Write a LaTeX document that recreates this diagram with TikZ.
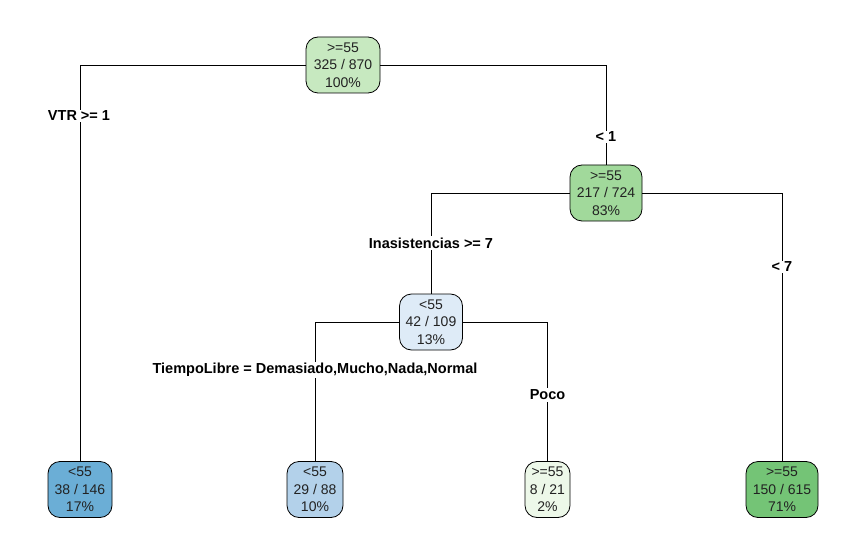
\documentclass[tikz,border=0pt]{standalone}
\usepackage{fontspec}
\setmainfont{Liberation Sans}
\definecolor{cRoot}{HTML}{C7E9C0}
\definecolor{cTwo}{HTML}{A1D99B}
\definecolor{cThree}{HTML}{DEEBF7}
\definecolor{cLeafA}{HTML}{6BAED6}
\definecolor{cLeafB}{HTML}{B3D1EA}
\definecolor{cLeafC}{HTML}{EDF8E9}
\definecolor{cLeafD}{HTML}{74C476}
\definecolor{txt}{HTML}{222222}
\tikzset{
  tnode/.style={draw=black, line width=0.8pt, rounded corners=12pt, align=center, inner sep=0pt,
    minimum height=56pt, text=txt, font=\fontsize{14}{17.5}\selectfont},
  elabel/.style={fill=white, inner sep=1.5pt, font=\fontsize{14.5}{16}\selectfont\bfseries},
  conn/.style={line width=0.8pt, draw=black}
}
\begin{document}
\begin{tikzpicture}[x=1pt,y=-1pt]
\useasboundingbox (0,0) rectangle (866,553);
\node[tnode, fill=cRoot, minimum width=74pt] (root) at (343,65) {>=55\\325 / 870\\100\%};
\node[tnode, fill=cTwo, minimum width=72pt] (n2) at (606,193) {>=55\\217 / 724\\83\%};
\node[tnode, fill=cThree, minimum width=63pt] (n3) at (431,322) {<55\\42 / 109\\13\%};
\node[tnode, fill=cLeafA, minimum width=64pt] (l1) at (80,489.5) {<55\\38 / 146\\17\%};
\node[tnode, fill=cLeafB, minimum width=56pt] (l2) at (315,489.5) {<55\\29 / 88\\10\%};
\node[tnode, fill=cLeafC, minimum width=45pt] (l3) at (547.5,489.5) {>=55\\8 / 21\\2\%};
\node[tnode, fill=cLeafD, minimum width=72pt] (l4) at (782,489.5) {>=55\\150 / 615\\71\%};
\draw[conn] (root.west) -| (l1.north);
\draw[conn] (root.east) -| (n2.north);
\draw[conn] (n2.west) -| (n3.north);
\draw[conn] (n2.east) -| (l4.north);
\draw[conn] (n3.west) -| (l2.north);
\draw[conn] (n3.east) -| (l3.north);
\node[elabel] (e1) at (79,116) {VTR >= 1};
\node[elabel] (e2) at (606,137) {< 1};
\node[elabel] (e3) at (431,243) {Inasistencias >= 7};
\node[elabel] (e4) at (782,267) {< 7};
\node[elabel] (e5) at (315,370) {TiempoLibre = Demasiado,Mucho,Nada,Normal};
\node[elabel] (e6) at (547.5,395) {Poco};
\end{tikzpicture}
\end{document}
